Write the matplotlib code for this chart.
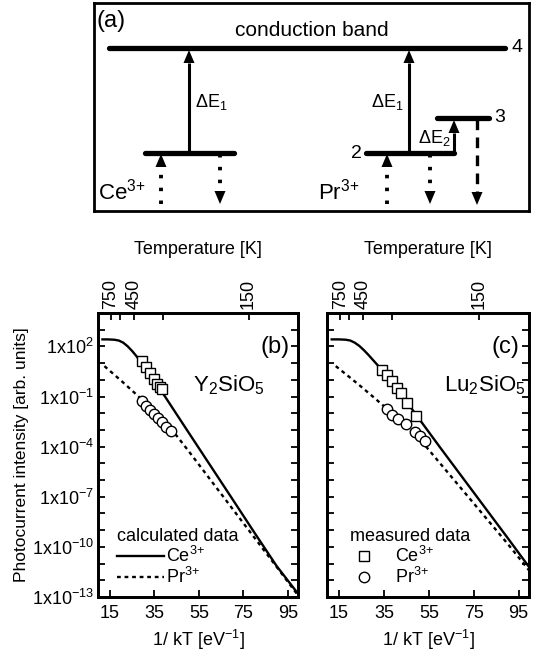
import numpy as np
import matplotlib
matplotlib.use("Agg")
import matplotlib.pyplot as plt

plt.rcParams['font.family'] = ['Liberation Sans', 'DejaVu Sans']
plt.rcParams['mathtext.fontset'] = 'custom'
plt.rcParams['mathtext.rm'] = 'Liberation Sans'
plt.rcParams['mathtext.it'] = 'Liberation Sans:italic'
plt.rcParams['mathtext.bf'] = 'Liberation Sans:bold'

K_B = 8.617e-5  # eV/K

# ------------------------------------------------------------
# Datos (b) Y2SiO5  -- valores en log10
# ------------------------------------------------------------
y2_ce_calc_x = [11.6, 14, 17, 19, 21, 23, 25, 27, 29, 31, 33, 36, 40, 50, 60, 70, 80, 90, 99.6]
y2_ce_calc_log = [2.42, 2.42, 2.40, 2.35, 2.22, 2.0, 1.72, 1.4, 1.06, 0.7, 0.33, -0.25, -1.05,
                  -3.08, -5.1, -7.12, -9.15, -11.15, -12.8]
y2_pr_calc_x = [12.5, 15, 20, 25, 30, 35, 40, 45, 50, 60, 70, 80, 90, 99.6]
y2_pr_calc_log = [0.82, 0.53, -0.05, -0.65, -1.27, -1.95, -2.65, -3.35, -4.2, -5.95, -7.7,
                  -9.45, -11.2, -12.9]
y2_ce_meas_x = [29.2, 31.0, 33.0, 34.8, 36.3, 37.5, 38.4]
y2_ce_meas_log = [1.10, 0.77, 0.41, 0.05, -0.23, -0.43, -0.55]
y2_pr_meas_x = [29.2, 31.2, 33.0, 34.8, 36.6, 38.4, 40.4, 42.6]
y2_pr_meas_log = [-1.29, -1.55, -1.8, -2.05, -2.3, -2.55, -2.8, -3.08]

# ------------------------------------------------------------
# Datos (c) Lu2SiO5
# ------------------------------------------------------------
lu_ce_calc_x = [11.7, 15, 18, 20, 22, 24, 26, 28, 30, 32, 34, 37, 40, 45, 50, 60, 70, 80, 90, 99.6]
lu_ce_calc_log = [2.42, 2.42, 2.40, 2.35, 2.22, 2.03, 1.78, 1.5, 1.2, 0.9, 0.58, 0.1, -0.4,
                  -1.3, -2.22, -4.05, -5.85, -7.65, -9.45, -11.2]
lu_pr_calc_x = [13.5, 15, 20, 25, 30, 35, 40, 45, 50, 55, 60, 70, 80, 90, 99.6]
lu_pr_calc_log = [0.82, 0.66, 0.12, -0.43, -1.0, -1.58, -2.2, -2.8, -3.4, -4.2, -5.0, -6.6,
                  -8.2, -9.8, -11.4]
lu_ce_meas_x = [34.0, 36.3, 38.4, 40.6, 42.5, 45.3, 49.4]
lu_ce_meas_log = [0.56, 0.27, -0.1, -0.5, -0.8, -1.38, -2.18]
lu_pr_meas_x = [36.5, 38.7, 41.2, 44.7, 48.7, 51.0, 53.4]
lu_pr_meas_log = [-1.74, -2.09, -2.34, -2.64, -3.14, -3.39, -3.69]

# ejes
x_ticks = [15, 35, 55, 75, 95]
y_exp_major = [2, -1, -4, -7, -10, -13]
y_exp_minor = list(range(-13, 5))
temp_major = [750, 450, 150]
temp_minor = [600, 300]

CE = r'$\mathrm{Ce}^{3{+}}$'
PR = r'$\mathrm{Pr}^{3{+}}$'

# ------------------------------------------------------------
# Esquema (a): niveles y flechas (coordenadas del recuadro)
# ------------------------------------------------------------
niveles = [(109, 505, 48), (145, 234, 153), (366, 454, 153), (437, 489, 118)]
flechas = [(189, 153, 50, '-'), (409, 153, 50, '-'), (454, 153, 120, '-'),
           (161, 204, 154, ':'), (220, 154, 204, ':'),
           (387, 204, 154, ':'), (430, 154, 204, ':'), (477, 119, 205, '--')]

fig = plt.figure(figsize=(5.36, 6.52), dpi=100)


def dibujar_flecha(ax, x, y0, y1, ls):
    d = 1 if y1 > y0 else -1
    cab = 13
    if ls == ':':
        estilo = dict(ls=(0, (0.9, 2.4)), lw=2.8)
    elif ls == '--':
        estilo = dict(ls=(0, (3.2, 2.2)), lw=2.4)
    else:
        estilo = dict(ls='-', lw=2.2)
    ax.plot([x, x], [y0, y1 - d * cab], color='k', solid_capstyle='butt', **estilo)
    ax.fill([x - 5.5, x + 5.5, x], [y1 - d * cab, y1 - d * cab, y1], color='k', lw=0)


ax_a = fig.add_axes([94 / 536, 1 - 211 / 652, 435 / 536, 208 / 652])
ax_a.set_xlim(94, 529)
ax_a.set_ylim(211, 3)
ax_a.set_xticks([])
ax_a.set_yticks([])
for s in ax_a.spines.values():
    s.set_linewidth(2)
for x0, x1, y in niveles:
    ax_a.plot([x0, x1], [y, y], color='k', lw=3.8, solid_capstyle='round')
for x, y0, y1, ls in flechas:
    dibujar_flecha(ax_a, x, y0, y1, ls)
ax_a.text(96, 21, '(a)', fontsize=17, va='center', ha='left')
ax_a.text(312, 31, 'conduction band', fontsize=15, va='center', ha='center')
ax_a.text(512, 48, '4', fontsize=14, va='center', ha='left')
ax_a.text(494, 118, '3', fontsize=14, va='center', ha='left')
ax_a.text(362, 154, '2', fontsize=14, va='center', ha='right')
ax_a.text(195, 102, r'$\Delta\mathrm{E}_1$', fontsize=13, va='center', ha='left')
ax_a.text(404, 102, r'$\Delta\mathrm{E}_1$', fontsize=13, va='center', ha='right')
ax_a.text(451, 138, r'$\Delta\mathrm{E}_2$', fontsize=13, va='center', ha='right')
ax_a.text(98, 192, CE, fontsize=16, va='center', ha='left')
ax_a.text(318, 192, PR, fontsize=16, va='center', ha='left')


# ------------------------------------------------------------
# Paneles (b) y (c)
# ------------------------------------------------------------
def panel(rect, ce_x, ce_log, pr_x, pr_log, cem_x, cem_log, prm_x, prm_log,
          letra, muestra, etiquetas_y):
    ax = fig.add_axes(rect)
    ax.plot(ce_x, 10.0 ** np.array(ce_log), color='k', lw=1.7, label=CE)
    ax.plot(pr_x, 10.0 ** np.array(pr_log), color='k', lw=1.7, ls=(0, (1.6, 1.6)), label=PR)
    mk = dict(mfc='white', mec='k', mew=1.0, ms=7.5, ls='none')
    ax.plot(prm_x, 10.0 ** np.array(prm_log), marker='o', **mk)
    ax.plot(cem_x, 10.0 ** np.array(cem_log), marker='s', **mk)
    ax.set_yscale('log')
    ax.set_xlim(9.6, 99.6)
    ax.set_ylim(1e-13, 1e4)
    ax.set_xticks(x_ticks)
    ax.set_yticks([10.0 ** e for e in y_exp_major])
    ax.set_yticks([10.0 ** e for e in y_exp_minor], minor=True)
    if etiquetas_y:
        ax.set_yticklabels([r'$\mathrm{1x10}^{%d}$' % e for e in y_exp_major])
        ax.set_ylabel('Photocurrent intensity [arb. units]', fontsize=12.5, labelpad=2)
    else:
        ax.set_yticklabels([])
    ax.yaxis.set_minor_formatter(plt.NullFormatter())
    ax.tick_params(which='both', direction='in', length=5, width=1.3,
                   right=True, labelsize=13, pad=3)
    ax.tick_params(axis='x', pad=6)
    ax.set_xlabel(r'$\mathrm{1/\ kT\ [eV}^{-1}\mathrm{]}$', fontsize=13, labelpad=4)
    for s in ax.spines.values():
        s.set_linewidth(2)
    ax.text(0.885, 0.88, letra, transform=ax.transAxes, fontsize=17, ha='center', va='center')
    ax.text(muestra[1], 0.745, muestra[0], transform=ax.transAxes, fontsize=16,
            ha='center', va='center')

    # eje superior de temperatura
    top = ax.twiny()
    top.set_xlim(ax.get_xlim())
    top.set_xticks([1 / (K_B * t) for t in temp_major])
    top.set_xticklabels([str(t) for t in temp_major], rotation=90)
    top.set_xticks([1 / (K_B * t) for t in temp_minor], minor=True)
    top.tick_params(which='both', direction='in', length=5, width=1.3, labelsize=13, pad=3)
    top.set_xlabel('Temperature [K]', fontsize=13, labelpad=18)
    for s in top.spines.values():
        s.set_linewidth(2)
    return ax


ax_b = panel([98 / 536, 55 / 652, 200 / 536, 284 / 652],
             y2_ce_calc_x, y2_ce_calc_log, y2_pr_calc_x, y2_pr_calc_log,
             y2_ce_meas_x, y2_ce_meas_log, y2_pr_meas_x, y2_pr_meas_log,
             '(b)', (r'$\mathrm{Y}_2\mathrm{SiO}_5$', 0.655), True)
ax_c = panel([327 / 536, 55 / 652, 202 / 536, 284 / 652],
             lu_ce_calc_x, lu_ce_calc_log, lu_pr_calc_x, lu_pr_calc_log,
             lu_ce_meas_x, lu_ce_meas_log, lu_pr_meas_x, lu_pr_meas_log,
             '(c)', (r'$\mathrm{Lu}_2\mathrm{SiO}_5$', 0.78), False)

# leyendas
h, l = ax_b.get_legend_handles_labels()
ax_b.legend(h, l, title='calculated data', loc='lower left',
            bbox_to_anchor=(0.03, -0.01), frameon=False, fontsize=13,
            title_fontsize=13, handlelength=2.6, handletextpad=0.15,
            labelspacing=0.05, borderpad=0.2, alignment='left')
lineas_c = ax_c.get_lines()
ax_c.legend([lineas_c[3], lineas_c[2]], [CE, PR],
            title='measured data', loc='lower left', bbox_to_anchor=(0.05, -0.01),
            frameon=False, fontsize=13, title_fontsize=13, handlelength=1.6,
            handletextpad=0.9, labelspacing=0.05, borderpad=0.2, alignment='left')

fig.savefig('out.png', dpi=100)
